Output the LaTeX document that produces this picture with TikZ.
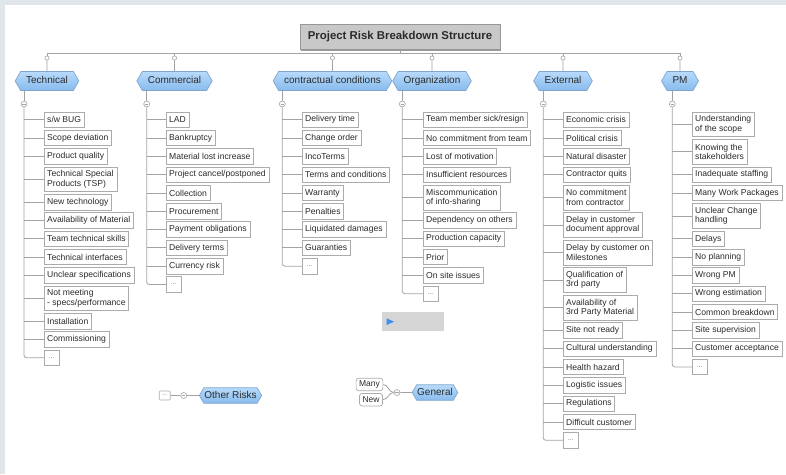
\documentclass[tikz,border=0pt]{standalone}
\usepackage{fontspec}
\setmainfont{Liberation Sans}
\usetikzlibrary{shapes.symbols,shadows}

\definecolor{band}{HTML}{E0E7EB}
\definecolor{linegray}{HTML}{A3A3A3}
\definecolor{boxline}{HTML}{ABABAB}
\definecolor{txt}{HTML}{2B2B2B}
\definecolor{hexlight}{HTML}{B8DAFB}
\definecolor{hexdark}{HTML}{88BBEE}
\definecolor{hexline}{HTML}{7FA6CC}
\definecolor{titlefill}{HTML}{C8C8C8}
\definecolor{titleline}{HTML}{979797}
\definecolor{barfill}{HTML}{D5D5D5}
\definecolor{playblue}{HTML}{3D8EF0}

\begin{document}
\begin{tikzpicture}[x=1pt,y=-1pt,
  link/.style={draw=linegray, line width=0.8pt},
  item/.style={draw=boxline, line width=0.7pt, fill=white, text=txt,
    font=\fontsize{8.6}{9.4}\selectfont, inner xsep=3.2pt, inner ysep=1pt,
    minimum height=15.5pt, align=left, outer sep=0pt},
  two/.style={minimum height=24.7pt},
  more/.style={item, minimum width=15pt, font=\fontsize{6.5}{7}\selectfont, text=black!60},
  under/.style={at={([yshift=-2.8pt]#1.south west)}, anchor=north west},
  cat/.style={signal, signal to=west and east, signal pointer angle=120,
    draw=hexline, line width=0.7pt, top color=hexlight, bottom color=hexdark,
    text=txt, font=\fontsize{10}{12}\selectfont, minimum height=19pt,
    text height=7.3pt, text depth=2pt, inner xsep=5.5pt, inner ysep=0pt},
  smallcat/.style={cat, minimum height=15.5pt, inner xsep=0.5pt},
  drop/.style={circle, draw=linegray, fill=white, line width=0.6pt,
    minimum size=4.2pt, inner sep=0pt},
  col/.style={circle, draw=linegray, fill=white, line width=0.6pt,
    minimum size=6pt, inner sep=0pt,
    path picture={\draw[linegray, line width=0.5pt]
      ([xshift=-1.6pt]path picture bounding box.center) --
      ([xshift=1.6pt]path picture bounding box.center);}},
  pill/.style={draw=boxline, line width=0.7pt, rounded corners=2.5pt, fill=white,
    text=txt, font=\fontsize{8.5}{9}\selectfont, minimum height=12.4pt,
    inner xsep=3pt, inner ysep=0pt},
  tinybox/.style={draw=boxline, line width=0.6pt, rounded corners=1pt, fill=white,
    minimum width=11pt, minimum height=9pt, inner sep=0pt,
    font=\fontsize{5.5}{6}\selectfont, text=black!60},
  titlebox/.style={draw=titleline, line width=0.8pt, fill=titlefill,
    minimum width=200pt, minimum height=25pt, text=txt,
    font=\bfseries\fontsize{11.4}{13}\selectfont,
    drop shadow={shadow xshift=1.3pt, shadow yshift=-1.3pt, fill=black!40, opacity=1}}
]

% canvas
\fill[band] (0,0) rectangle (786,474);
\fill[white] (5,5) rectangle (786,474);

% root and main branches
\node[titlebox] (title) at (400,36.7) {Project Risk Breakdown Structure};
\coordinate (bus) at (0,53);

\node[cat] (tech) at (47,81)    {Technical};
\node[cat] (comm) at (174.5,81) {Commercial};
\node[cat] (cont) at (332.5,81) {contractual conditions};
\node[cat] (org)  at (432,81)   {Organization};
\node[cat] (ext)  at (563,81)   {External};
\node[cat] (pm)   at (680,81)   {PM};

\draw[link] (tech |- bus) -- (pm |- bus);
\draw[link] (title.south) -- (title.south |- bus);
\foreach \c in {tech,comm,cont,org,ext,pm}{
  \node[drop] (d\c) at (\c |- 0,58) {};
  \draw[link] (d\c) -- (d\c |- bus);
  \draw[link] (d\c) -- (\c);
}

% Technical
\node[item, anchor=north west] (t1) at (44,112) {s/w BUG};
\node[item, under=t1] (t2) {Scope deviation};
\node[item, under=t2] (t3) {Product quality};
\node[item, two, under=t3] (t4) {Technical Special\\Products (TSP)};
\node[item, under=t4] (t5) {New technology};
\node[item, under=t5] (t6) {Availability of Material};
\node[item, under=t6] (t7) {Team technical skills};
\node[item, under=t7] (t8) {Technical interfaces};
\node[item, under=t8] (t9) {Unclear specifications};
\node[item, two, under=t9] (t10) {Not meeting\\- specs/performance};
\node[item, under=t10] (t11) {Installation};
\node[item, under=t11] (t12) {Commissioning};
\node[more, under=t12] (t13) {...};

% Commercial
\node[item, anchor=north west] (c1) at (166,112) {LAD};
\node[item, under=c1] (c2) {Bankruptcy};
\node[item, under=c2] (c3) {Material lost increase};
\node[item, under=c3] (c4) {Project cancel/postponed};
\node[item, under=c4] (c5) {Collection};
\node[item, under=c5] (c6) {Procurement};
\node[item, under=c6] (c7) {Payment obligations};
\node[item, under=c7] (c8) {Delivery terms};
\node[item, under=c8] (c9) {Currency risk};
\node[more, under=c9] (c10) {...};

% contractual conditions
\node[item, anchor=north west] (k1) at (302,112) {Delivery time};
\node[item, under=k1] (k2) {Change order};
\node[item, under=k2] (k3) {IncoTerms};
\node[item, under=k3] (k4) {Terms and conditions};
\node[item, under=k4] (k5) {Warranty};
\node[item, under=k5] (k6) {Penalties};
\node[item, under=k6] (k7) {Liquidated damages};
\node[item, under=k7] (k8) {Guaranties};
\node[more, under=k8] (k9) {...};

% Organization
\node[item, anchor=north west] (o1) at (423,112) {Team member sick/resign};
\node[item, under=o1] (o2) {No commitment from team};
\node[item, under=o2] (o3) {Lost of motivation};
\node[item, under=o3] (o4) {Insufficient resources};
\node[item, two, under=o4] (o5) {Miscommunication\\of info-sharing};
\node[item, under=o5] (o6) {Dependency on others};
\node[item, under=o6] (o7) {Production capacity};
\node[item, under=o7] (o8) {Prior};
\node[item, under=o8] (o9) {On site issues};
\node[more, under=o9] (o10) {...};

% External
\node[item, anchor=north west] (e1) at (563,112) {Economic crisis};
\node[item, under=e1] (e2) {Political crisis};
\node[item, under=e2] (e3) {Natural disaster};
\node[item, under=e3] (e4) {Contractor quits};
\node[item, two, under=e4] (e5) {No commitment\\from contractor};
\node[item, two, under=e5] (e6) {Delay in customer\\document approval};
\node[item, two, under=e6] (e7) {Delay by customer on\\Milestones};
\node[item, two, under=e7] (e8) {Qualification of\\3rd party};
\node[item, two, under=e8] (e9) {Availability of\\3rd Party Material};
\node[item, under=e9] (e10) {Site not ready};
\node[item, under=e10] (e11) {Cultural understanding};
\node[item, under=e11] (e12) {Health hazard};
\node[item, under=e12] (e13) {Logistic issues};
\node[item, under=e13] (e14) {Regulations};
\node[item, under=e14] (e15) {Difficult customer};
\node[more, under=e15] (e16) {...};

% PM
\node[item, two, anchor=north west] (p1) at (692,112) {Understanding\\of the scope};
\node[item, two, under=p1] (p2) {Knowing the\\stakeholders};
\node[item, under=p2] (p3) {Inadequate staffing};
\node[item, under=p3] (p4) {Many Work Packages};
\node[item, two, under=p4] (p5) {Unclear Change\\handling};
\node[item, under=p5] (p6) {Delays};
\node[item, under=p6] (p7) {No planning};
\node[item, under=p7] (p8) {Wrong PM};
\node[item, under=p8] (p9) {Wrong estimation};
\node[item, under=p9] (p10) {Common breakdown};
\node[item, under=p10] (p11) {Site supervision};
\node[item, under=p11] (p12) {Customer acceptance};
\node[more, under=p12] (p13) {...};

% collapse knobs and spines
\foreach \c/\x/\p/\n in {tech/24/t/13, comm/146.7/c/10, cont/282.3/k/9,
                         org/402.3/o/10, ext/543.3/e/16, pm/672.3/p/13}{
  \node[col] (k\c) at (\x,104) {};
  \draw[link] (\c.south -| k\c) -- (k\c);
  \draw[link, rounded corners=2.5pt] (k\c.south) |- (\p\n.west);
  \pgfmathtruncatemacro{\last}{\n-1}
  \foreach \i in {1,...,\last}{
    \draw[link] (k\c |- \p\i.west) -- (\p\i.west);
  }
}

% Other Risks
\node[smallcat] (oth) at (230.5,395.5) {Other Risks};
\node[col] (koth) at (183.7,395.5) {};
\node[tinybox] (odots) at (164.7,395.5) {...};
\draw[link] (odots) -- (koth);
\draw[link] (koth) -- (oth);

% General
\node[smallcat] (gen) at (435,392.5) {General};
\node[col] (kgen) at (397,392.5) {};
\node[pill] (many) at (369.5,384.5) {Many};
\node[pill] (new) at (371,399.7) {New};
\draw[link] (kgen) -- (gen);
\draw[link] (kgen.west) to[out=180, in=0] (many.east);
\draw[link] (kgen.west) to[out=180, in=0] (new.east);

% playback bar
\fill[barfill] (382,312.3) rectangle (444,330.7);
\fill[playblue] (386.7,318.3) -- (394,321.7) -- (386.7,325) -- cycle;
\end{tikzpicture}
\end{document}
